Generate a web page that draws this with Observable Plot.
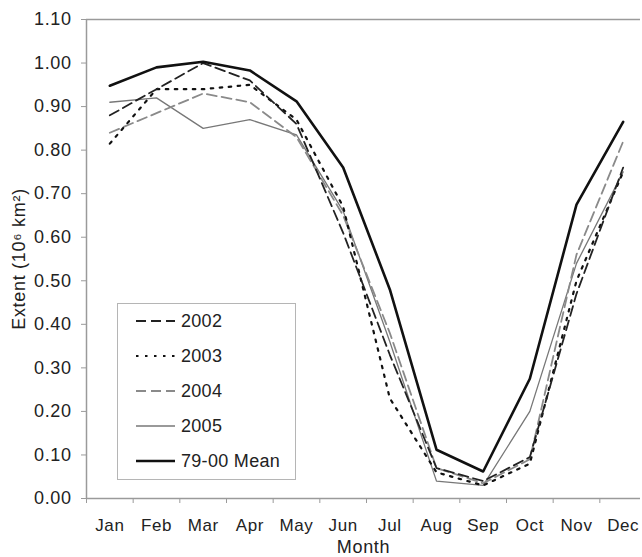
<!DOCTYPE html>
<html><head><meta charset="utf-8">
<script src="https://cdn.jsdelivr.net/npm/d3@7"></script>
<script src="https://cdn.jsdelivr.net/npm/@observablehq/plot@0.6"></script>
<style>
body{margin:0;background:#fff;}
#wrap{position:relative;width:642px;height:557px;overflow:hidden;}
#wrap svg.chart g[aria-label="x-axis tick label"] text{font-size:17px !important;letter-spacing:0.6px;}
#wrap svg.chart g[aria-label="y-axis tick label"] text{font-size:18px !important;letter-spacing:0.6px;}
#wrap svg.chart g[aria-label$="axis label"] text{font-size:18px !important;letter-spacing:0.7px;}
#legend{position:absolute;left:0;top:0;pointer-events:none;}
</style></head><body><div id="wrap"></div>
<script>
const months = ["Jan","Feb","Mar","Apr","May","Jun","Jul","Aug","Sep","Oct","Nov","Dec"];
const seriesNames = ["2002","2003","2004","2005","79-00 Mean"];
const v2002 = [0.88, 0.94, 1.00, 0.96, 0.86, 0.61, 0.33, 0.07, 0.04, 0.095, 0.47, 0.76];
const v2003 = [0.815, 0.94, 0.94, 0.95, 0.87, 0.67, 0.23, 0.06, 0.03, 0.08, 0.50, 0.75];
const v2004 = [0.84, 0.885, 0.93, 0.91, 0.83, 0.65, 0.38, 0.07, 0.035, 0.09, 0.56, 0.82];
const v2005 = [0.91, 0.92, 0.85, 0.87, 0.835, 0.66, 0.36, 0.04, 0.03, 0.20, 0.54, 0.75];
const vMean = [0.948, 0.99, 1.003, 0.983, 0.912, 0.76, 0.48, 0.112, 0.062, 0.275, 0.675, 0.865];
const yTicks = [0.00,0.10,0.20,0.30,0.40,0.50,0.60,0.70,0.80,0.90,1.00,1.10];

const valuesBySeries = [v2002, v2003, v2004, v2005, vMean];
const styles = {
  "2002": {stroke:"#222", strokeWidth:1.8, dash:"10,5"},
  "2003": {stroke:"#111", strokeWidth:2.2, dash:"2.5,6.5"},
  "2004": {stroke:"#8a8a8a", strokeWidth:1.8, dash:"10,5"},
  "2005": {stroke:"#777", strokeWidth:1.3, dash:null},
  "79-00 Mean": {stroke:"#111", strokeWidth:2.6, dash:null}
};
const FONT = "'Liberation Sans', Arial, sans-serif";

const data = [];
seriesNames.forEach((s, k) => valuesBySeries[k].forEach((v, i) => data.push({series: s, i, month: months[i], v})));

const drawOrder = ["2005","2004","2003","2002","79-00 Mean"];
const lineMarks = drawOrder.map(s => Plot.line(data.filter(d => d.series === s), {
  x: d => d.i + 0.5, y: "v",
  stroke: styles[s].stroke, strokeWidth: styles[s].strokeWidth,
  strokeDasharray: styles[s].dash || undefined
}));

const chart = Plot.plot({
  width: 642, height: 557,
  marginLeft: 86, marginTop: 19, marginBottom: 59, marginRight: 2,
  className: "chart",
  style: {fontFamily: FONT, fontSize: "17px", color: "#222", background: "#fff"},
  x: {domain: [0, 12], range: [86, 646]},
  y: {domain: [0, 1.1], range: [498, 19]},
  marks: [
    Plot.ruleY([1.1], {stroke: "#9a9a9a", strokeWidth: 1.5}),
    Plot.axisY({ticks: yTicks, tickFormat: d3.format(".2f"), tickSize: 5, tickPadding: 10, stroke: "#9a9a9a", fill: "#222", fontSize: 18,
      label: "Extent (10⁶ km²)", labelAnchor: "center", labelArrow: "none", labelOffset: 74}),
    Plot.axisX({ticks: d3.range(0, 13), tickFormat: () => "", tickSize: 5, stroke: "#9a9a9a", label: null}),
    Plot.axisX({ticks: months.map((m, i) => i + 0.5), tickFormat: d => months[Math.floor(d)], tickSize: 0, tickPadding: 20, fill: "#222", fontSize: 17,
      label: "Month", labelAnchor: "center", labelArrow: "none", labelOffset: 54}),
    Plot.ruleX([0], {stroke: "#9a9a9a", strokeWidth: 1.5}),
    Plot.ruleY([0], {stroke: "#9a9a9a", strokeWidth: 1.5}),
    ...lineMarks
  ]
});
chart.classList.add("chart");
const wrap = document.getElementById("wrap");
wrap.appendChild(chart);

// Legend overlay
const lg = d3.select(wrap).append("svg").attr("id", "legend").attr("width", 642).attr("height", 557);
lg.append("rect").attr("x", 117.5).attr("y", 303.5).attr("width", 178).attr("height", 176)
  .attr("fill", "#fff").attr("stroke", "#b5b5b5").attr("stroke-width", 1);
seriesNames.forEach((s, k) => {
  const y = 321 + k * 35;
  const st = styles[s];
  lg.append("line").attr("x1", 136).attr("x2", 175).attr("y1", y).attr("y2", y)
    .attr("stroke", st.stroke).attr("stroke-width", st.strokeWidth)
    .attr("stroke-dasharray", st.dash || null);
  lg.append("text").attr("x", 181).attr("y", y).attr("dy", "0.35em")
    .attr("font-family", FONT).attr("font-size", 18).attr("letter-spacing", "0.3px").attr("fill", "#222").text(s);
});
</script></body></html>
